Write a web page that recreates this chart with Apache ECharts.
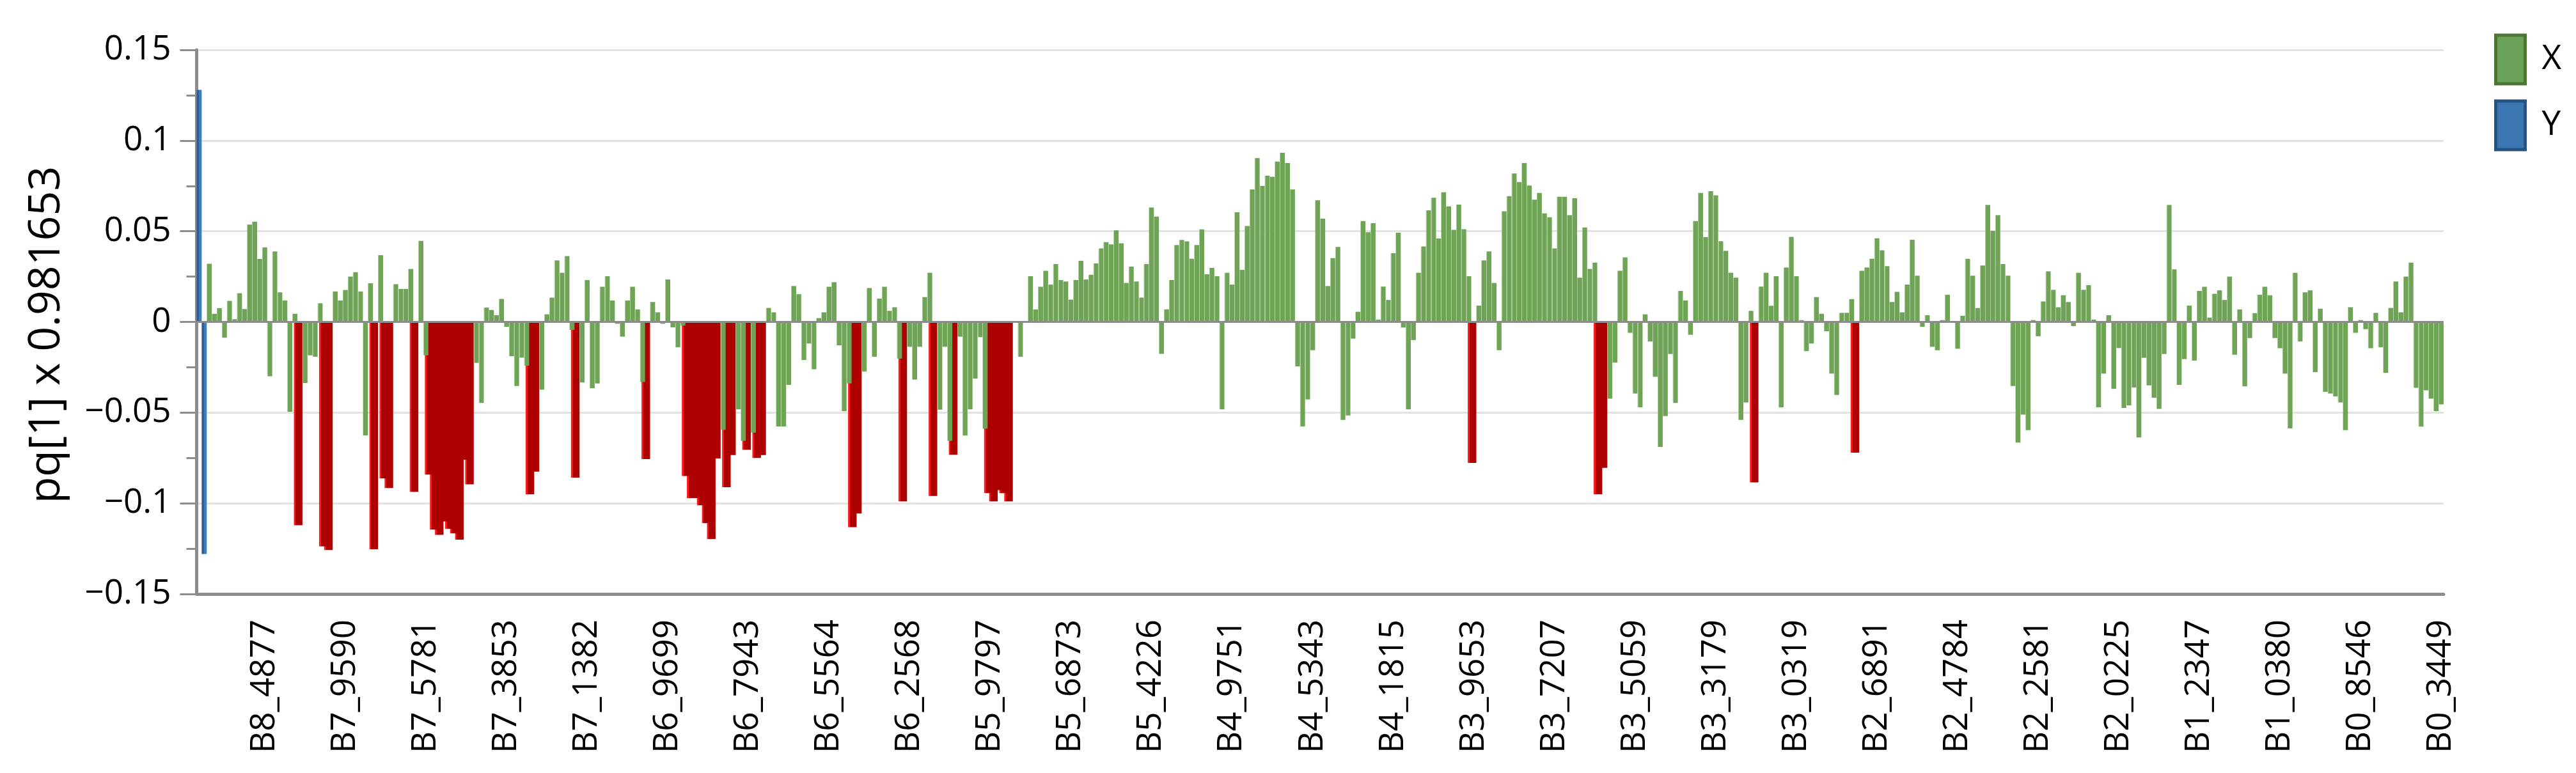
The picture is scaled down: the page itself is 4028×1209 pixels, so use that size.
<!DOCTYPE html>
<html>
<head>
<meta charset="utf-8">
<script src="https://cdn.jsdelivr.net/npm/echarts@6/dist/echarts.min.js"></script>
<style>
  html, body { margin: 0; padding: 0; background: #fff; }
  #chart { width: 4028px; height: 1209px; }
</style>
</head>
<body>
<div id="chart"></div>
<script>
const tickLabels = [
  'B8_4877', 'B7_9590', 'B7_5781', 'B7_3853', 'B7_1382', 'B6_9699', 'B6_7943',
  'B6_5564', 'B6_2568', 'B5_9797', 'B5_6873', 'B5_4226', 'B4_9751', 'B4_5343',
  'B4_1815', 'B3_9653', 'B3_7207', 'B3_5059', 'B3_3179', 'B3_0319', 'B2_6891',
  'B2_4784', 'B2_2581', 'B2_0225', 'B1_2347', 'B1_0380', 'B0_8546', 'B0_3449',
]
const categoryCount = 446
const labelStart = 13
const labelStep = 16

// Y loadings (first two variables)
const yValues = [0.128, -0.128]

// X loadings, one per variable (first two slots belong to Y)
const xValues = [
  null, null, 0.0321, 0.0045, 0.0076, -0.0087, 0.0116, 0.0015, 0.0158, 0.0071,
  0.0537, 0.0553, 0.0347, 0.0411, -0.030, 0.0389, 0.0163, 0.0118, -0.0495, 0.0045,
  -0.1121, -0.0337, -0.0184, -0.0192, 0.0103, -0.1237, -0.1258, 0.0168, 0.0118, 0.0176,
  0.025, 0.0274, 0.0168, -0.0626, 0.0213, -0.1253, 0.0368, -0.0863, -0.0916, 0.0208,
  0.0182, 0.0182, 0.0292, -0.0937, 0.0447, -0.0184, -0.0842, -0.1145, -0.1174, -0.110,
  -0.114, -0.1166, -0.120, -0.076, -0.0895, -0.0226, -0.0447, 0.0079, 0.0066, 0.0037,
  0.0127, -0.0027, -0.0189, -0.0353, -0.0197, -0.0242, -0.095, -0.0826, -0.0374, 0.0042,
  0.0134, 0.0339, 0.0271, 0.0363, -0.0044, -0.0858, -0.0334, 0.0231, -0.0366, -0.0339,
  0.0194, 0.0252, 0.0118, -0.001, -0.0081, 0.0118, 0.0194, 0.0069, -0.0331, -0.0756,
  0.011, 0.0053, -0.001, 0.0234, -0.003, -0.014, -0.002, -0.085, -0.0971, -0.0971,
  -0.1011, -0.111, -0.1197, -0.0753, -0.0595, -0.0911, -0.0734, -0.0482, -0.0656, -0.0705,
  -0.0611, -0.075, -0.0734, 0.0077, 0.0053, -0.0576, -0.0576, -0.0347, 0.0198, 0.0153,
  -0.021, -0.0119, -0.0261, 0.0021, 0.0053, 0.0194, 0.0219, -0.0129, -0.0492, -0.0339,
  -0.1132, -0.1056, -0.0273, 0.0187, -0.0192, 0.0129, 0.0194, 0.0061, 0.0081, -0.0202,
  -0.099, -0.0137, -0.0318, -0.0137, 0.0137, 0.0271, -0.096, -0.0484, -0.0137, -0.0656,
  -0.0732, -0.0081, -0.0627, -0.0482, -0.0313, -0.0084, -0.0589, -0.0944, -0.099, -0.0927,
  -0.0944, -0.099, 0, -0.0192, 0, 0.0252, 0.0069, 0.0194, 0.0282, 0.0206,
  0.0319, 0.0231, 0.0223, 0.0123, 0.0231, 0.0337, 0.0234, 0.026, 0.0323, 0.0405,
  0.044, 0.0427, 0.0505, 0.0434, 0.0215, 0.0305, 0.0223, 0.0134, 0.0319, 0.0631,
  0.0581, -0.0176, 0.0069, 0.0231, 0.0424, 0.0452, 0.0444, 0.0348, 0.0424, 0.051,
  0.0263, 0.0298, 0.0252, -0.0482, 0.0271, 0.0206, 0.0605, 0.0287, 0.0529, 0.0731,
  0.0903, 0.075, 0.0806, 0.08, 0.0884, 0.0932, 0.0876, 0.0731, -0.0245, -0.0576,
  -0.0427, -0.0156, 0.0671, 0.0569, 0.0198, 0.0352, 0.0413, -0.054, -0.0516, -0.0092,
  0.0056, 0.0556, 0.0494, 0.0545, 0.0013, 0.0195, 0.0121, 0.0379, 0.0492, -0.0031,
  -0.0482, -0.01, 0.0271, 0.0416, 0.0615, 0.0685, 0.046, 0.0715, 0.0637, 0.0508,
  0.0647, 0.0511, 0.0252, -0.0777, 0.009, 0.0339, 0.0389, 0.0215, -0.0156, 0.061,
  0.0694, 0.0819, 0.0771, 0.0876, 0.0752, 0.0674, 0.0711, 0.0598, 0.0577, 0.0405,
  0.069, 0.069, 0.0589, 0.0682, 0.0244, 0.0521, 0.0292, 0.0327, -0.095, -0.0805,
  -0.0423, -0.0224, 0.0282, 0.0356, -0.006, -0.0395, -0.0471, 0.0042, -0.0108, -0.0302,
  -0.0689, -0.0519, -0.0177, -0.0447, 0.0171, 0.0118, -0.0071, 0.0556, 0.0711, 0.0468,
  0.0721, 0.0698, 0.0445, 0.0392, 0.0271, 0.0244, -0.054, -0.0444, 0.0061, -0.0885,
  0.0195, 0.0271, 0.0089, 0.0252, -0.0471, 0.03, 0.0469, 0.0252, 0.001, -0.0161,
  -0.0119, 0.0137, 0.0045, -0.0052, -0.0285, -0.0403, 0.005, 0.005, 0.0126, -0.0721,
  0.0282, 0.03, 0.0348, 0.0461, 0.0395, 0.0308, 0.011, 0.0166, 0.0053, 0.0206,
  0.0453, 0.0255, -0.0027, 0.0037, -0.0137, -0.0156, 0.001, 0.015, 0.0005, -0.0148,
  0.0034, 0.0348, 0.0255, 0.0077, 0.0311, 0.0645, 0.0502, 0.0589, 0.0319, 0.0255,
  -0.0353, -0.0665, -0.0511, -0.0597, 0.001, -0.0079, 0.0113, 0.0279, 0.0177, 0.0081,
  0.0147, 0.011, -0.0023, 0.0271, 0.0177, 0.0203, 0.0013, -0.0471, -0.0285, 0.0037,
  -0.0369, -0.0144, -0.0474, -0.046, -0.0361, -0.0637, -0.0198, -0.035, -0.0418, -0.0479,
  -0.0177, 0.0645, 0.029, -0.0347, -0.0205, 0.009, -0.0213, 0.0171, 0.0194, 0.0024,
  0.0155, 0.0174, 0.0121, 0.025, -0.0181, 0.0069, -0.0355, -0.0089, 0.0048, 0.015,
  0.0194, 0.0147, -0.0089, -0.0145, -0.0285, -0.0587, 0.0271, -0.0108, 0.0163, 0.0174,
  -0.0277, 0.0073, -0.0385, -0.0395, -0.0411, -0.0444, -0.0597, 0.0081, -0.006, 0.001,
  -0.004, -0.0145, 0.005, -0.014, -0.0281, 0.0077, 0.0223, 0.0053, 0.025, 0.0327,
  -0.0363, -0.0577, -0.0377, -0.0423, -0.0492, -0.0455,
]

// variables drawn highlighted in red
const selectedIdx = [
  20, 25, 26, 35, 37, 38, 43, 46, 47, 48, 49, 50, 51, 52, 53, 54,
  66, 67, 75, 89, 97, 98, 99, 100, 101, 102, 103, 105, 106, 109, 111, 112,
  130, 131, 140, 146, 150, 157, 158, 159, 160, 161, 253, 278, 279, 309, 329,
]

const categories = Array.from({ length: categoryCount }, (_, i) => {
  const k = (i - labelStart) / labelStep
  return i >= labelStart && Number.isInteger(k) ? tickLabels[k] : ''
})

// highest index first so the lower neighbour ends up on top of the overlap
const redData = selectedIdx
  .slice()
  .sort((a, b) => b - a)
  .map((i) => [i, xValues[i]])
const greenData = xValues.map((v, i) => (v === null || selectedIdx.includes(i) ? '-' : v))
const blueData = categories.map((_, i) => (i < yValues.length ? yValues[i] : '-'))

const font = "'Open Sans', 'Noto Sans', sans-serif"
const axisGrey = '#8c8c8c'
const redScale = 1.7

function edgeGradient(edge, main, stop) {
  return new echarts.graphic.LinearGradient(0, 0, 1, 0, [
    { offset: 0, color: edge },
    { offset: stop, color: edge },
    { offset: stop + 0.01, color: main },
    { offset: 1, color: main },
  ])
}

function showTick(index) {
  return index >= labelStart && (index - labelStart) % labelStep === 0
}

function formatTick(v) {
  if (Math.abs(v) < 1e-9) return '0'
  const s = String(parseFloat(Math.abs(v).toFixed(2)))
  return v < 0 ? '\u2212' + s : s
}

const redFill = edgeGradient('#ff1a1a', '#ad0000', 0.2)

// selected bars are wider and reach into the slot on their left
function renderSelected(params, api) {
  const idx = api.value(0)
  const base = api.coord([idx, 0])
  const end = api.coord([idx, api.value(1)])
  const slot = api.size([1, 0])[0]
  const width = slot * redScale
  const right = base[0] + slot / 2
  return {
    type: 'rect',
    shape: {
      x: right - width,
      y: Math.min(base[1], end[1]),
      width: width,
      height: Math.abs(end[1] - base[1]),
    },
    style: { fill: redFill },
  }
}

const chart = echarts.init(document.getElementById('chart'))
chart.setOption({
  animation: false,
  textStyle: { fontFamily: font },
  grid: {
    left: 307.5,
    right: 207,
    top: 78,
    bottom: 280,
  },
  legend: {
    orient: 'vertical',
    left: 3895,
    top: 47.5,
    itemWidth: 46,
    itemHeight: 76,
    itemGap: 22,
    icon: 'rect',
    selectedMode: false,
    textStyle: { fontSize: 53, color: '#000', fontFamily: font, padding: [0, 0, 0, 21] },
    data: [
      { name: 'X', itemStyle: { color: '#6ca257', borderColor: '#4d7636', borderWidth: 5 } },
      { name: 'Y', itemStyle: { color: '#3a77b3', borderColor: '#28537f', borderWidth: 5 } },
    ],
  },
  xAxis: {
    type: 'category',
    data: categories,
    axisLine: { onZero: false, lineStyle: { color: axisGrey, width: 5 } },
    axisTick: {
      alignWithLabel: true,
      interval: showTick,
      length: 27,
      lineStyle: { color: axisGrey, width: 5 },
    },
    axisLabel: {
      interval: showTick,
      rotate: 90,
      margin: 40,
      fontSize: 53,
      color: '#000',
      fontFamily: font,
    },
    splitLine: { show: false },
  },
  yAxis: {
    type: 'value',
    min: -0.15,
    max: 0.15,
    interval: 0.05,
    name: 'pq[1] x 0.981653',
    nameLocation: 'middle',
    nameGap: 200,
    nameTextStyle: { fontSize: 68, color: '#000', fontFamily: font, padding: [0, 40, 0, 0] },
    axisLine: { show: true, lineStyle: { color: axisGrey, width: 5 } },
    axisTick: { show: true, length: 26, lineStyle: { color: axisGrey, width: 3 } },
    minorTick: { show: true, splitNumber: 2, length: 16, lineStyle: { color: axisGrey, width: 3 } },
    axisLabel: { margin: 40, fontSize: 53, color: '#000', fontFamily: font, formatter: formatTick },
    splitLine: { lineStyle: { color: '#e3e3e3', width: 3 } },
  },
  series: [
    {
      name: 'X selected',
      type: 'custom',
      data: redData,
      encode: { x: 0, y: 1 },
      renderItem: renderSelected,
    },
    {
      name: 'X',
      type: 'bar',
      stack: 'pq',
      data: greenData,
      barWidth: '100%',
      itemStyle: { color: edgeGradient('#a6c995', '#6fa457', 0.12) },
      markLine: {
        silent: true,
        symbol: ['none', 'none'],
        label: { show: false },
        lineStyle: { color: axisGrey, width: 3, type: 'solid' },
        data: [{ yAxis: 0 }],
      },
    },
    {
      name: 'Y',
      type: 'bar',
      stack: 'pq',
      data: blueData,
      barWidth: '100%',
      itemStyle: { color: edgeGradient('#2c5e93', '#3f7dbb', 0.4) },
    },
  ],
})
</script>
</body>
</html>
